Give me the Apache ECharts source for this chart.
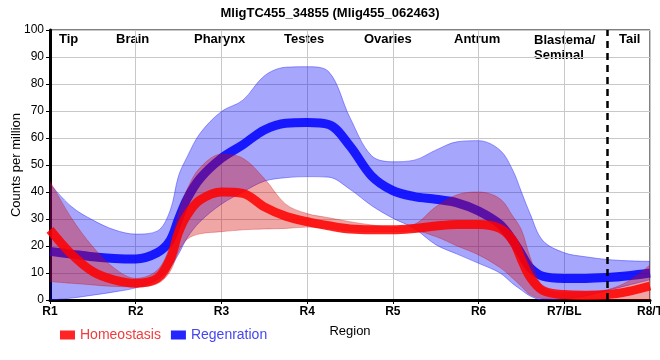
<!DOCTYPE html>
<html><head><meta charset="utf-8">
<script src="https://cdn.jsdelivr.net/npm/echarts@6/dist/echarts.min.js"></script>
<style>html,body{margin:0;padding:0;background:#fff}#c{width:660px;height:360px}</style>
</head><body><div id="c"></div>
<script>
const xLabels = ['R1','R2','R3','R4','R5','R6','R7/BL','R8/T'];
const regionNames = ['Tip','Brain','Pharynx','Testes','Ovaries','Antrum','Blastema/\nSeminal','Tail'];
const X = [1,1.25,1.5,1.75,2,2.25,2.4,2.5,2.6,2.75,3,3.25,3.5,3.75,4,4.25,4.5,4.75,5,5.25,5.5,5.75,6,6.25,6.4,6.5,6.6,6.75,7,7.25,7.5,7.75,8];
const homMean = [26,17,10.5,7.4,6.2,8,15,25,31.5,37,40,39.5,34.5,31,29,27.5,26.3,26,26,26.5,27.4,28,28,26.5,22,15,8.5,3.5,2,1.8,2,3.2,5.2];
const homLo   = [6.8,6.2,5.6,5,4.9,6,10.5,18,22.5,24.5,25.3,26,26.3,26.5,27,26.5,25.5,25.3,25.3,25.5,23.5,20,16.7,12,8,5,2,0.5,0.3,0.2,0.2,0.2,0.2];
const homHi   = [44,30.4,19.7,11.8,8,11,20,32,41,49,54,52.5,45,35.5,32,30.5,29,27.8,27,28,34.5,39,40,37.5,31,26,16,5,2.8,3,3.8,7,13];
const regMean = [18,17,16,15.4,15.2,17.5,22,30,37.5,45,52.5,57.5,63,65.5,65.7,65,57,46,40.5,38.3,37.3,36,33,28,22,17,12,8.8,8,8,8.3,9,10];
const regLo   = [0,0.7,1.8,3,4.5,7.5,12,17,23,29,35.5,40,44,45.3,45.7,45.5,41,35,30.3,26.5,20.5,17,13.6,10,6,3.7,1.5,0,0.5,1.5,3.5,5.5,7.5];
const regHi   = [43,34.6,29.6,26,24.4,25.5,33,46,53,61.7,69.8,74,83,86.2,86.4,84.6,67.5,53.5,51.2,51.8,55.5,58.6,59,55.5,48,40,32,22,17.5,16,15,14.5,14.3];

const FONT = 'Liberation Sans, Arial, sans-serif';
const pair = (xs, ys) => xs.map((x, i) => [x, ys[i]]);
// value first so that the stack is applied on the y dimension
const pairYX = (xs, ys) => xs.map((x, i) => [ys[i], x]);
const diff = (hi, lo) => hi.map((v, i) => +(v - lo[i]).toFixed(3));
const SM = 0.35;

function band(name, stack, data, z, edge, fill) {
  const s = {name, type: 'line', stack, data, dimensions: ['v', 'x'], encode: {x: 1, y: 0},
    smooth: SM, symbol: 'none', silent: true, z, lineStyle: {width: 1, color: edge}};
  if (fill) s.areaStyle = {color: fill, opacity: 1};
  return s;
}

const chart = echarts.init(document.getElementById('c'), null, {renderer: 'canvas'});
const option = {
  animation: false,
  textStyle: {fontFamily: FONT},
  title: {text: 'MligTC455_34855 (Mlig455_062463)', left: 'center', top: 2,
    textStyle: {fontSize: 13, fontWeight: 'bold', color: '#000', fontFamily: FONT}},
  grid: {left: 50, right: 10, top: 30, bottom: 60, containLabel: false, outerBoundsMode: 'none',
    show: true, borderColor: '#000', borderWidth: 1, backgroundColor: 'transparent'},
  legend: {
    left: 55, top: 323, itemWidth: 15, itemHeight: 9, itemGap: 10, icon: 'rect',
    data: [
      {name: 'Homeostasis', textStyle: {color: '#f03c3c'}},
      {name: 'Regenration', textStyle: {color: '#4646f0'}}
    ],
    textStyle: {fontSize: 14, fontFamily: FONT}
  },
  xAxis: {
    type: 'value', min: 1, max: 8, interval: 1,
    name: 'Region', nameLocation: 'middle', nameGap: 25, nameMoveOverlap: false,
    nameTextStyle: {fontSize: 13, color: '#000', fontFamily: FONT},
    axisLine: {show: true, lineStyle: {color: '#000', width: 3}},
    axisTick: {show: true, length: 4, lineStyle: {color: '#000', width: 1}},
    axisLabel: {formatter: v => xLabels[Math.round(v) - 1] || '', fontWeight: 'bold', fontSize: 12, color: '#000', margin: 6, fontFamily: FONT},
    splitLine: {show: true, lineStyle: {color: '#c8c8c8', width: 1}}
  },
  yAxis: {
    type: 'value', min: 0, max: 100, interval: 10,
    name: 'Counts per million', nameLocation: 'middle', nameGap: 27, nameMoveOverlap: false,
    nameTextStyle: {fontSize: 13, color: '#000', fontFamily: FONT},
    axisLine: {show: true, lineStyle: {color: '#000', width: 3}},
    axisTick: {show: true, length: 4, lineStyle: {color: '#000', width: 1}},
    axisLabel: {fontSize: 12, color: '#000', margin: 6, fontFamily: FONT},
    splitLine: {show: true, lineStyle: {color: '#c8c8c8', width: 1}}
  },
  series: [
    band('regLo', 'reg', pairYX(X, regLo), 1, 'rgba(40,40,255,0.45)', null),
    band('regBand', 'reg', pairYX(X, diff(regHi, regLo)), 1, 'rgba(40,40,255,0.45)', 'rgba(0,0,245,0.35)'),
    {name: 'Regenration', type: 'line', data: pair(X, regMean), smooth: SM, symbol: 'none', z: 2,
     color: '#2525ff',
     lineStyle: {width: 9, color: 'rgba(0,0,255,0.86)', cap: 'butt'}},
    band('homLo', 'hom', pairYX(X, homLo), 3, 'rgba(200,0,0,0.3)', null),
    band('homBand', 'hom', pairYX(X, diff(homHi, homLo)), 3, 'rgba(200,0,0,0.3)', 'rgba(214,0,0,0.35)'),
    {name: 'Homeostasis', type: 'line', data: pair(X, homMean), smooth: SM, symbol: 'none', z: 4,
     color: '#ff2525',
     lineStyle: {width: 9, color: 'rgba(255,0,0,0.86)', cap: 'butt'},
     markLine: {silent: true, symbol: 'none', label: {show: false},
       lineStyle: {color: '#000', type: [7, 5], width: 2.5},
       data: [{xAxis: 7.5}]}}
  ],
  graphic: [
    {type: 'text', left: 59, top: 33, style: {text: regionNames[0], font: 'bold 13px ' + FONT, fill: '#000'}},
    {type: 'text', left: 116, top: 33, style: {text: regionNames[1], font: 'bold 13px ' + FONT, fill: '#000'}},
    {type: 'text', left: 194, top: 33, style: {text: regionNames[2], font: 'bold 13px ' + FONT, fill: '#000'}},
    {type: 'text', left: 284, top: 33, style: {text: regionNames[3], font: 'bold 13px ' + FONT, fill: '#000'}},
    {type: 'text', left: 364, top: 33, style: {text: regionNames[4], font: 'bold 13px ' + FONT, fill: '#000'}},
    {type: 'text', left: 454, top: 33, style: {text: regionNames[5], font: 'bold 13px ' + FONT, fill: '#000'}},
    {type: 'text', left: 534, top: 33, style: {text: regionNames[6], font: 'bold 13px ' + FONT, fill: '#000', lineHeight: 15}},
    {type: 'text', left: 619, top: 33, style: {text: regionNames[7], font: 'bold 13px ' + FONT, fill: '#000'}}
  ]
};
chart.setOption(option);
</script>
</body></html>
